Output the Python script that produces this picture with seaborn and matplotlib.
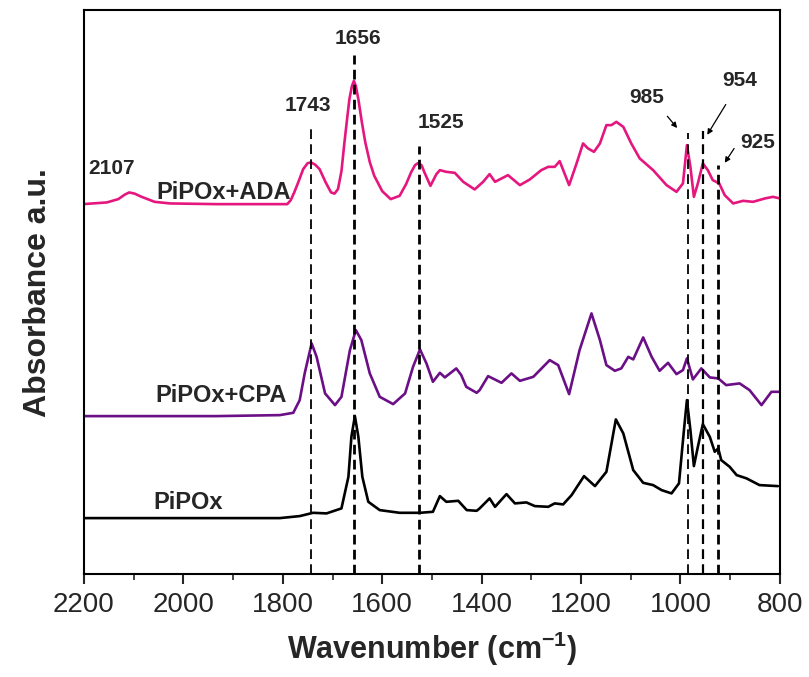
import numpy as np
import pandas as pd
import seaborn as sns
import matplotlib
matplotlib.use("Agg")
import matplotlib.pyplot as plt

# FTIR traces (wavenumber, intensity above each baseline)
ada_wn = [2202, 2154, 2131, 2118, 2109, 2098, 2086, 2058, 2027, 1934, 1791, 1784, 1777, 1768,
          1759, 1750, 1743, 1735, 1726, 1714, 1703, 1696, 1689, 1682, 1676, 1670, 1666, 1661,
          1657, 1653, 1648, 1641, 1634, 1625, 1616, 1600, 1583, 1565, 1552, 1542, 1534, 1528,
          1521, 1515, 1503, 1491, 1484, 1471, 1454, 1437, 1414, 1397, 1384, 1373, 1347, 1323,
          1303, 1280, 1266, 1253, 1243, 1224, 1209, 1196, 1186, 1174, 1162, 1149, 1139, 1129,
          1115, 1099, 1082, 1055, 1028, 1008, 995, 987, 980, 973, 965, 955, 945, 935, 922,
          911, 894, 874, 854, 830, 814, 800]
ada_abs = [0, 0.017, 0.05, 0.095, 0.117, 0.105, 0.077, 0.023, 0.007, 0, 0, 0.04, 0.117, 0.23,
           0.35, 0.41, 0.417, 0.395, 0.35, 0.22, 0.117, 0.105, 0.15, 0.33, 0.617, 0.88, 1.05, 1.18,
           1.233, 1.18, 1.05, 0.82, 0.617, 0.42, 0.283, 0.13, 0.05, 0.083, 0.2, 0.317, 0.39, 0.41,
           0.39, 0.317, 0.183, 0.30, 0.34, 0.323, 0.313, 0.223, 0.147, 0.223, 0.30, 0.223, 0.29, 0.19,
           0.247, 0.34, 0.373, 0.373, 0.43, 0.19, 0.407, 0.607, 0.557, 0.523, 0.607, 0.79, 0.79, 0.823,
           0.773, 0.607, 0.457, 0.34, 0.19, 0.123, 0.207, 0.59, 0.373, 0.073, 0.207, 0.407, 0.34, 0.24, 0.207,
           0.09, 0.007, 0.033, 0.023, 0.057, 0.073, 0.057]

cpa_wn = [2202, 1934, 1806, 1779, 1766, 1756, 1742, 1732, 1715, 1695, 1682, 1665, 1653, 1642,
          1625, 1605, 1578, 1554, 1538, 1524, 1511, 1498, 1484, 1474, 1451, 1441, 1431, 1410,
          1404, 1387, 1360, 1340, 1323, 1296, 1263, 1246, 1224, 1203, 1179, 1162, 1149, 1132,
          1119, 1105, 1095, 1075, 1058, 1042, 1025, 1008, 995, 987, 975, 958, 941, 924, 908,
          881, 861, 837, 817, 800]
cpa_abs = [0, 0, 0.01, 0.033, 0.16, 0.427, 0.727, 0.593, 0.227, 0.11, 0.193, 0.66, 0.86, 0.76,
           0.427, 0.193, 0.12, 0.227, 0.493, 0.667, 0.527, 0.343, 0.433, 0.387, 0.477, 0.41, 0.293, 0.233,
           0.26, 0.40, 0.333, 0.427, 0.353, 0.393, 0.56, 0.51, 0.22, 0.66, 1.027, 0.76, 0.51, 0.453,
           0.477, 0.593, 0.567, 0.787, 0.593, 0.453, 0.533, 0.42, 0.46, 0.577, 0.367, 0.477, 0.387, 0.377, 0.31,
           0.327, 0.26, 0.11, 0.243, 0.243]

pipox_wn = [2202, 1934, 1806, 1766, 1739, 1712, 1682, 1668, 1662, 1655, 1648, 1640, 1628, 1605,
            1565, 1524, 1498, 1484, 1471, 1447, 1430, 1410, 1404, 1384, 1373, 1350, 1333, 1310,
            1293, 1266, 1253, 1236, 1219, 1194, 1172, 1149, 1130, 1115, 1095, 1075, 1055, 1038,
            1018, 1003, 993, 987, 980, 973, 965, 955, 941, 931, 924, 918, 901, 887, 867, 841, 804]
pipox_abs = [0, 0, 0, 0.02, 0.053, 0.047, 0.097, 0.413, 0.813, 1.02, 0.813, 0.413, 0.163, 0.08,
             0.053, 0.053, 0.063, 0.22, 0.163, 0.173, 0.08, 0.073, 0.097, 0.197, 0.113, 0.24, 0.147, 0.157,
             0.12, 0.113, 0.147, 0.137, 0.23, 0.42, 0.32, 0.463, 0.987, 0.847, 0.48, 0.353, 0.33, 0.28,
             0.247, 0.347, 0.88, 1.18, 0.88, 0.52, 0.713, 0.94, 0.813, 0.663, 0.697, 0.58, 0.513, 0.43,
             0.397, 0.33, 0.32]

names = ["PiPOx+ADA", "PiPOx+CPA", "PiPOx"]
offsets = [3.70, 1.58, 0.56]
colors = ["#E5177E", "#6B0F86", "#000000"]

# marked bands: wavenumber, top of dashed line, label, label position, arrow
bands = [1743, 1656, 1525, 985, 954, 925]
band_tops = [4.47, 5.19, 4.28, 4.41, 4.43, 4.09]
band_labels = ["1743", "1656", "1525", "985", "954", "925"]
label_xy = [(1749, 4.69), (1648, 5.36), (1481, 4.52), (1068, 4.77), (881, 4.94), (845, 4.32)]
arrow_tail = [None, None, None, (1030, 4.60), (906, 4.72), (889, 4.28)]
arrow_head = [None, None, None, (1003, 4.44), (949, 4.37), (914, 4.09)]
band_widths = [1.3, 2.0, 2.0, 1.3, 1.6, 2.0]

frames = []
for n, wn, ab, off in zip(names, [ada_wn, cpa_wn, pipox_wn],
                          [ada_abs, cpa_abs, pipox_abs], offsets):
    frames.append(pd.DataFrame({"wn": wn, "A": np.array(ab) + off, "sample": n}))
df = pd.concat(frames, ignore_index=True)

sns.set_style("ticks")
plt.rcParams["font.family"] = ["Liberation Sans", "DejaVu Sans"]

fig = plt.figure(figsize=(8.09, 6.77), dpi=100)
ax = fig.add_axes([0.1038, 0.152, 0.8602, 0.833])

sns.lineplot(data=df, x="wn", y="A", hue="sample", palette=dict(zip(names, colors)),
             sort=False, estimator=None, linewidth=1.9, legend=False, ax=ax)
for l in ax.lines:
    l.set_solid_joinstyle("round")

for wn, top, lw in zip(bands, band_tops, band_widths):
    ax.plot([wn, wn], [0, top], color="black", lw=lw, ls=(0, (7.0 / lw, 3.8 / lw)))

for lab, xy, tail, head in zip(band_labels, label_xy, arrow_tail, arrow_head):
    ax.text(xy[0], xy[1], lab, ha="center", va="center", fontsize=15, fontweight="bold")
    if tail is not None:
        ax.annotate("", xy=head, xytext=tail,
                    arrowprops=dict(arrowstyle="-|>", color="black", lw=0.9,
                                    mutation_scale=8))

ax.text(2144, 4.06, "2107", ha="center", va="center", fontsize=15, fontweight="bold")

name_xy = [(1920, 3.82), (1924, 1.79), (1991, 0.72)]
for n, xy in zip(names, name_xy):
    ax.text(xy[0], xy[1], n, ha="center", va="center", fontsize=17, fontweight="bold")

ax.set_xlim(2200, 800)
ax.set_ylim(0, 5.64)
ax.set_xticks(np.arange(2200, 799, -200))
ax.set_xticks(np.arange(2100, 800, -200), minor=True)
ax.set_yticks([])
ax.tick_params(axis="x", which="major", direction="out", length=7, width=1.5,
               labelsize=20, pad=6)
ax.tick_params(axis="x", which="minor", direction="out", length=4, width=1.2)
for s in ax.spines.values():
    s.set_linewidth(1.5)
    s.set_color("black")

ax.set_xlabel("Wavenumber (cm$^{\\mathregular{-1}}$)", fontsize=22, fontweight="bold",
              labelpad=8)
ax.set_ylabel("Absorbance a.u.", fontsize=23, fontweight="bold", labelpad=22)

fig.savefig("out.png", dpi=100)
